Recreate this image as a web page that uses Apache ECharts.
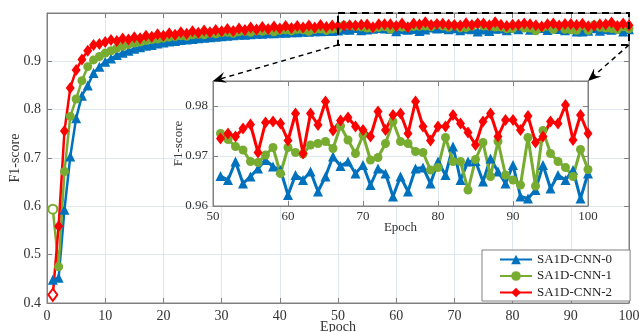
<!DOCTYPE html>
<html>
<head>
<meta charset="utf-8">
<script src="https://cdn.jsdelivr.net/npm/echarts@6/dist/echarts.min.js"></script>
<style>
  html, body { margin: 0; padding: 0; background: #fff; }
  #chart { width: 639px; height: 332px; }
</style>
</head>
<body>
<div id="chart"></div>
<script>
const seriesNames = ["SA1D-CNN-0", "SA1D-CNN-1", "SA1D-CNN-2"];
const epochs = Array.from({ length: 100 }, (_, i) => i + 1);

const cnn0 = [
  0.448, 0.452, 0.593, 0.703, 0.782, 0.829, 0.850, 0.876, 0.889, 0.899,
  0.906, 0.913, 0.918, 0.922, 0.926, 0.929, 0.932, 0.934, 0.937, 0.939,
  0.941, 0.942, 0.944, 0.945, 0.946, 0.948, 0.949, 0.950, 0.951, 0.952,
  0.953, 0.954, 0.955, 0.955, 0.956, 0.957, 0.957, 0.958, 0.958, 0.959,
  0.959, 0.960, 0.960, 0.961, 0.961, 0.962, 0.962, 0.963, 0.963, 0.964,
  0.9660, 0.9652, 0.9689, 0.9645, 0.9659, 0.9675, 0.9692, 0.9679, 0.9672, 0.9622,
  0.9662, 0.9652, 0.9669, 0.9629, 0.9659, 0.9699, 0.9680, 0.9689, 0.9665, 0.9682,
  0.9642, 0.9675, 0.9665, 0.9619, 0.9659, 0.9629, 0.9675, 0.9677, 0.9645, 0.9689,
  0.9662, 0.9719, 0.9652, 0.9689, 0.9690, 0.9649, 0.9695, 0.9669, 0.9645, 0.9682,
  0.9619, 0.9615, 0.9632, 0.9682, 0.9635, 0.9662, 0.9652, 0.9672, 0.9615, 0.9665
];
const cnn1 = [
  0.594, 0.475, 0.672, 0.786, 0.822, 0.860, 0.889, 0.903, 0.910, 0.917,
  0.922, 0.927, 0.931, 0.935, 0.938, 0.940, 0.943, 0.945, 0.946, 0.948,
  0.950, 0.951, 0.953, 0.952, 0.955, 0.956, 0.955, 0.958, 0.957, 0.959,
  0.960, 0.958, 0.961, 0.962, 0.960, 0.963, 0.962, 0.964, 0.961, 0.964,
  0.965, 0.963, 0.966, 0.965, 0.962, 0.966, 0.967, 0.964, 0.967, 0.968,
  0.9745, 0.9733, 0.9719, 0.9712, 0.9689, 0.9687, 0.9702, 0.9717, 0.9665, 0.9717,
  0.9707, 0.9704, 0.9722, 0.9725, 0.9729, 0.9715, 0.9760, 0.9732, 0.9705, 0.9742,
  0.9692, 0.9697, 0.9725, 0.9769, 0.9729, 0.9725, 0.9709, 0.9707, 0.9672, 0.9677,
  0.9737, 0.9689, 0.9689, 0.9632, 0.9693, 0.9727, 0.9659, 0.9729, 0.9662, 0.9652,
  0.9642, 0.9737, 0.9640, 0.9751, 0.9705, 0.9689, 0.9677, 0.9659, 0.9713, 0.9673
];
const cnn2 = [
  0.417, 0.559, 0.756, 0.845, 0.882, 0.904, 0.922, 0.934, 0.936, 0.940,
  0.944, 0.942, 0.947, 0.945, 0.950, 0.948, 0.953, 0.951, 0.956, 0.953,
  0.958, 0.955, 0.960, 0.957, 0.962, 0.959, 0.964, 0.960, 0.965, 0.962,
  0.967, 0.963, 0.968, 0.965, 0.970, 0.966, 0.971, 0.967, 0.972, 0.968,
  0.973, 0.969, 0.973, 0.970, 0.974, 0.970, 0.975, 0.971, 0.974, 0.973,
  0.9735, 0.9745, 0.9739, 0.9755, 0.9763, 0.9707, 0.9767, 0.9769, 0.9765, 0.9731,
  0.9785, 0.9705, 0.9785, 0.9762, 0.9809, 0.9751, 0.9771, 0.9777, 0.9759, 0.9752,
  0.9739, 0.9789, 0.9752, 0.9782, 0.9785, 0.9745, 0.9809, 0.9759, 0.9731, 0.9759,
  0.9759, 0.9782, 0.9765, 0.9747, 0.9722, 0.9769, 0.9785, 0.9739, 0.9772, 0.9772,
  0.9752, 0.9780, 0.9727, 0.9739, 0.9769, 0.9765, 0.9802, 0.9732, 0.9782, 0.9745
];

const insetStart = 51; // the zoomed plot begins at epoch 51

const colors = ["#0072BD", "#77AC30", "#FF0000"];
const symbols = ["triangle", "circle", "diamond"];
const symbolSizes = [10, 9, [9, 12]];
const values = [cnn0, cnn1, cnn2];

const serif = "'Liberation Serif', 'DejaVu Serif', serif";
const textColor = "#333";
const axisColor = "#808080";
const gridColor = "#dfe8f1";

const chart = echarts.init(document.getElementById("chart"));

function xAx(grid, pos, opts) {
  return Object.assign({
    type: "value", gridIndex: grid, position: pos,
    nameMoveOverlap: false,
    axisLine: { show: true, onZero: false, lineStyle: { color: axisColor, width: 1 } },
    axisTick: { show: true, inside: true, length: 5, lineStyle: { color: axisColor } },
    axisLabel: { show: false },
    splitLine: { show: false }
  }, opts);
}

function makeSeries(i, inset) {
  let data = epochs.map((e, k) => {
    // first epoch markers are drawn hollow in the original
    if (!inset && k === 0 && i > 0) {
      return { value: [e, values[i][k]], itemStyle: { color: "#fff", borderColor: colors[i], borderWidth: 2 } };
    }
    return [e, values[i][k]];
  });
  if (inset) data = data.filter(d => d[0] >= insetStart);
  return {
    name: seriesNames[i],
    type: "line",
    xAxisIndex: inset ? 2 : 0,
    yAxisIndex: inset ? 2 : 0,
    z: inset ? 6 : 2,
    symbol: symbols[i],
    symbolSize: symbolSizes[i],
    showAllSymbol: true,
    clip: true,
    lineStyle: { color: colors[i], width: inset ? 3 : 2.5 },
    itemStyle: { color: colors[i] },
    emphasis: { disabled: true },
    data: data
  };
}

const option = {
  animation: false,
  backgroundColor: "#fff",
  textStyle: { fontFamily: serif },
  grid: [
    { left: 47, right: 10, top: 13, bottom: 29, show: true, borderColor: axisColor, borderWidth: 1,
      outerBoundsMode: "none", containLabel: false },
    { left: 213, right: 51, top: 81, bottom: 126, show: true, backgroundColor: "#fff", borderColor: axisColor, borderWidth: 1, z: 3,
      outerBoundsMode: "none", containLabel: false }
  ],
  legend: {
    data: seriesNames,
    orient: "vertical",
    left: 482, top: 250,
    backgroundColor: "#fff",
    borderColor: axisColor, borderWidth: 1,
    padding: [3, 18, 2, 17],
    itemGap: 3.5,
    itemWidth: 32, itemHeight: 12,
    textStyle: { fontFamily: serif, fontSize: 13, color: "#222", lineHeight: 12 },
    z: 10
  },
  xAxis: [
    xAx(0, "bottom", {
      min: 0, max: 100, interval: 10,
      name: "Epoch", nameLocation: "middle", nameGap: 17,
      nameTextStyle: { fontFamily: serif, fontSize: 14, color: textColor },
      axisLabel: { show: true, fontFamily: serif, fontSize: 14, color: textColor, margin: 6 },
      splitLine: { show: true, lineStyle: { color: gridColor, width: 1 } }
    }),
    xAx(0, "top", { min: 0, max: 100, interval: 10 }),
    xAx(1, "bottom", {
      min: 50, max: 100, interval: 10, z: 4,
      name: "Epoch", nameLocation: "middle", nameGap: 15,
      nameTextStyle: { fontFamily: serif, fontSize: 13, color: textColor },
      axisLabel: { show: true, fontFamily: serif, fontSize: 13, color: textColor, margin: 4 },
      splitLine: { show: true, lineStyle: { color: gridColor, width: 1 } }
    }),
    xAx(1, "top", { min: 50, max: 100, interval: 10, z: 4 })
  ],
  yAxis: [
    xAx(0, "left", {
      min: 0.4, max: 1, interval: 0.1,
      name: "F1-score", nameLocation: "middle", nameGap: 25,
      nameTextStyle: { fontFamily: serif, fontSize: 14, color: textColor },
      axisLabel: { show: true, fontFamily: serif, fontSize: 14, color: textColor, margin: 6,
        formatter: v => (v > 0.95 ? "" : v.toFixed(1)) },
      splitLine: { show: true, lineStyle: { color: gridColor, width: 1 } }
    }),
    xAx(0, "right", { min: 0.4, max: 1, interval: 0.1 }),
    xAx(1, "left", {
      min: 0.96, max: 0.985, interval: 0.01, z: 4,
      name: "F1-score", nameLocation: "middle", nameGap: 28,
      nameTextStyle: { fontFamily: serif, fontSize: 13, color: textColor },
      axisLabel: { show: true, fontFamily: serif, fontSize: 13, color: textColor, margin: 5,
        formatter: v => (v > 0.982 ? "" : v.toFixed(2)) },
      splitLine: { show: true, lineStyle: { color: gridColor, width: 1 } }
    }),
    xAx(1, "right", { min: 0.96, max: 0.985, interval: 0.01, z: 4 })
  ],
  series: [0, 1, 2].map(i => makeSeries(i, false)).concat([0, 1, 2].map(i => makeSeries(i, true)))
};

chart.setOption(option);

// zoom box and arrows pointing to the inset
const tl = chart.convertToPixel({ gridIndex: 0 }, [50, 1.0]);
const br = chart.convertToPixel({ gridIndex: 0 }, [100, 0.934]);
const inL = chart.convertToPixel({ gridIndex: 1 }, [50, 0.985]);
const inR = chart.convertToPixel({ gridIndex: 1 }, [100, 0.985]);

function arrow(from, tip) {
  const dx = tip[0] - from[0], dy = tip[1] - from[1];
  const L = Math.hypot(dx, dy);
  const ux = dx / L, uy = dy / L, px = -uy, py = ux;
  const len = 13, w = 5.5, notch = 8;
  const bx = tip[0] - ux * len, by = tip[1] - uy * len;
  const nx = tip[0] - ux * notch, ny = tip[1] - uy * notch;
  return [
    { type: "line", z: 20, shape: { x1: from[0], y1: from[1], x2: nx, y2: ny },
      style: { stroke: "#000", lineWidth: 1.5, lineDash: [5, 4] } },
    { type: "polygon", z: 20,
      shape: { points: [tip, [bx + px * w, by + py * w], [nx, ny], [bx - px * w, by - py * w]] },
      style: { fill: "#000" } }
  ];
}

chart.setOption({
  graphic: [
    { type: "rect", z: 20,
      shape: { x: tl[0], y: tl[1], width: br[0] - tl[0], height: br[1] - tl[1] },
      style: { fill: null, stroke: "#000", lineWidth: 2, lineDash: [7, 5] } }
  ].concat(arrow([tl[0], br[1]], inL), arrow([br[0], br[1]], inR))
});
</script>
</body>
</html>
